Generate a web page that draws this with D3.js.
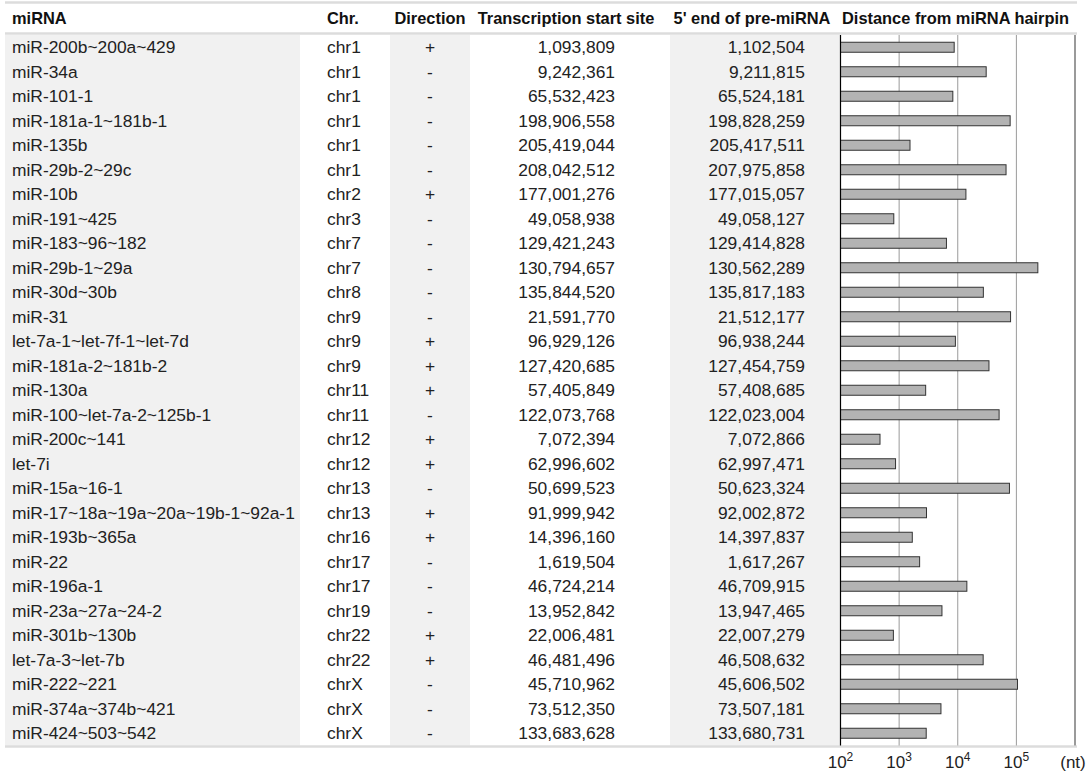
<!DOCTYPE html>
<html>
<head>
<meta charset="utf-8">
<script src="https://cdn.jsdelivr.net/npm/d3@7"></script>
<style>
  body { margin: 0; background: #fff; }
  svg { font-family: "Liberation Sans", Arial, Helvetica, sans-serif; }
</style>
</head>
<body>
<div id="chart"></div>
<script>
const mirnas = ["miR-200b~200a~429", "miR-34a", "miR-101-1", "miR-181a-1~181b-1", "miR-135b",
  "miR-29b-2~29c", "miR-10b", "miR-191~425", "miR-183~96~182", "miR-29b-1~29a", "miR-30d~30b",
  "miR-31", "let-7a-1~let-7f-1~let-7d", "miR-181a-2~181b-2", "miR-130a", "miR-100~let-7a-2~125b-1",
  "miR-200c~141", "let-7i", "miR-15a~16-1", "miR-17~18a~19a~20a~19b-1~92a-1", "miR-193b~365a",
  "miR-22", "miR-196a-1", "miR-23a~27a~24-2", "miR-301b~130b", "let-7a-3~let-7b", "miR-222~221",
  "miR-374a~374b~421", "miR-424~503~542"];
const chrs = ["chr1", "chr1", "chr1", "chr1", "chr1", "chr1", "chr2", "chr3", "chr7", "chr7", "chr8",
  "chr9", "chr9", "chr9", "chr11", "chr11", "chr12", "chr12", "chr13", "chr13", "chr16", "chr17",
  "chr17", "chr19", "chr22", "chr22", "chrX", "chrX", "chrX"];
const directions = ["+", "-", "-", "-", "-", "-", "+", "-", "-", "-", "-", "-", "+", "+", "+", "-",
  "+", "+", "-", "+", "+", "-", "-", "-", "+", "+", "-", "-", "-"];
const tss = [1093809, 9242361, 65532423, 198906558, 205419044, 208042512, 177001276, 49058938,
  129421243, 130794657, 135844520, 21591770, 96929126, 127420685, 57405849, 122073768, 7072394,
  62996602, 50699523, 91999942, 14396160, 1619504, 46724214, 13952842, 22006481, 46481496,
  45710962, 73512350, 133683628];
const preEnd = [1102504, 9211815, 65524181, 198828259, 205417511, 207975858, 177015057, 49058127,
  129414828, 130562289, 135817183, 21512177, 96938244, 127454759, 57408685, 122023004, 7072866,
  62997471, 50623324, 92002872, 14397837, 1617267, 46709915, 13947465, 22007279, 46508632,
  45606502, 73507181, 133680731];
const exponents = [2, 3, 4, 5];

const width = 1089, height = 772;
const tableTop = 35, rowH = 24.5;
const tableLeft = 5, tableRight = 1077;
const fmt = d3.format(",");

const svg = d3.select("#chart").append("svg")
  .attr("width", width)
  .attr("height", height);

const y = d3.scaleBand()
  .domain(d3.range(mirnas.length))
  .range([tableTop, tableTop + rowH * mirnas.length]);

const x = d3.scaleLog().domain([1e2, 1e6]).range([840.5, 1075]);

// shaded columns
const bands = [[tableLeft, 300], [390, 470], [670, 840.5]];
svg.selectAll(".band")
  .data(bands)
  .enter().append("rect")
  .attr("x", d => d[0])
  .attr("y", tableTop)
  .attr("width", d => d[1] - d[0])
  .attr("height", y.range()[1] - tableTop)
  .attr("fill", "#f1f1f1");

// horizontal rules
[2.5, 33.5, y.range()[1] + 1].forEach(v => {
  svg.append("line")
    .attr("x1", tableLeft).attr("x2", tableRight)
    .attr("y1", v).attr("y2", v)
    .attr("stroke", "#dcdcdc")
    .attr("stroke-width", 2.5);
});

// header
const headers = [
  { text: "miRNA", x: 12, anchor: "start" },
  { text: "Chr.", x: 327, anchor: "start" },
  { text: "Direction", x: 430, anchor: "middle" },
  { text: "Transcription start site", x: 566, anchor: "middle" },
  { text: "5' end of pre-miRNA", x: 752, anchor: "middle" },
  { text: "Distance from miRNA hairpin", x: 842, anchor: "start" }
];
svg.selectAll(".hdr")
  .data(headers)
  .enter().append("text")
  .attr("x", d => d.x)
  .attr("y", 24)
  .attr("text-anchor", d => d.anchor)
  .attr("font-weight", "bold")
  .attr("font-size", 16.4)
  .attr("fill", "#111")
  .text(d => d.text);

// gridlines
svg.selectAll(".grid")
  .data(exponents.slice(1).map(e => Math.pow(10, e)))
  .enter().append("line")
  .attr("x1", d => x(d)).attr("x2", d => x(d))
  .attr("y1", tableTop).attr("y2", y.range()[1])
  .attr("stroke", "#9a9a9a")
  .attr("stroke-width", 1);

svg.append("line")
  .attr("x1", x(1e6)).attr("x2", x(1e6))
  .attr("y1", tableTop).attr("y2", y.range()[1])
  .attr("stroke", "#9a9a9a")
  .attr("stroke-width", 2);

// table rows
const rows = svg.selectAll(".row")
  .data(mirnas.map((m, i) => ({ i, m, chr: chrs[i], dir: directions[i], tss: tss[i], pre: preEnd[i],
    dist: Math.abs(tss[i] - preEnd[i]) })))
  .enter().append("g")
  .attr("transform", d => `translate(0,${y(d.i) + rowH / 2})`)
  .attr("font-size", 17.4)
  .attr("fill", "#222");

rows.append("text").attr("x", 12).attr("dy", "0.35em").text(d => d.m);
rows.append("text").attr("x", 327).attr("dy", "0.35em").text(d => d.chr);
rows.append("text").attr("x", 430).attr("dy", "0.35em").attr("text-anchor", "middle").text(d => d.dir);
rows.append("text").attr("x", 615).attr("dy", "0.35em").attr("text-anchor", "end").text(d => fmt(d.tss));
rows.append("text").attr("x", 805).attr("dy", "0.35em").attr("text-anchor", "end").text(d => fmt(d.pre));

rows.append("rect")
  .attr("x", x(1e2))
  .attr("y", -5)
  .attr("width", d => x(d.dist) - x(1e2))
  .attr("height", 10)
  .attr("fill", "#b3b3b3")
  .attr("stroke", "#333")
  .attr("stroke-width", 1);

// axis baseline
svg.append("line")
  .attr("x1", x(1e2)).attr("x2", x(1e2))
  .attr("y1", tableTop).attr("y2", y.range()[1])
  .attr("stroke", "#000")
  .attr("stroke-width", 1.2);

// tick labels
const tl = svg.selectAll(".tick")
  .data(exponents)
  .enter().append("text")
  .attr("x", d => x(Math.pow(10, d)))
  .attr("y", 768)
  .attr("text-anchor", "middle")
  .attr("font-size", 17)
  .attr("fill", "#222");
tl.append("tspan").text("10");
tl.append("tspan").attr("font-size", 12).attr("dy", -7).text(d => d);

svg.append("text")
  .attr("x", 1073)
  .attr("y", 768)
  .attr("text-anchor", "middle")
  .attr("font-size", 17)
  .attr("fill", "#222")
  .text("(nt)");
</script>
</body>
</html>
